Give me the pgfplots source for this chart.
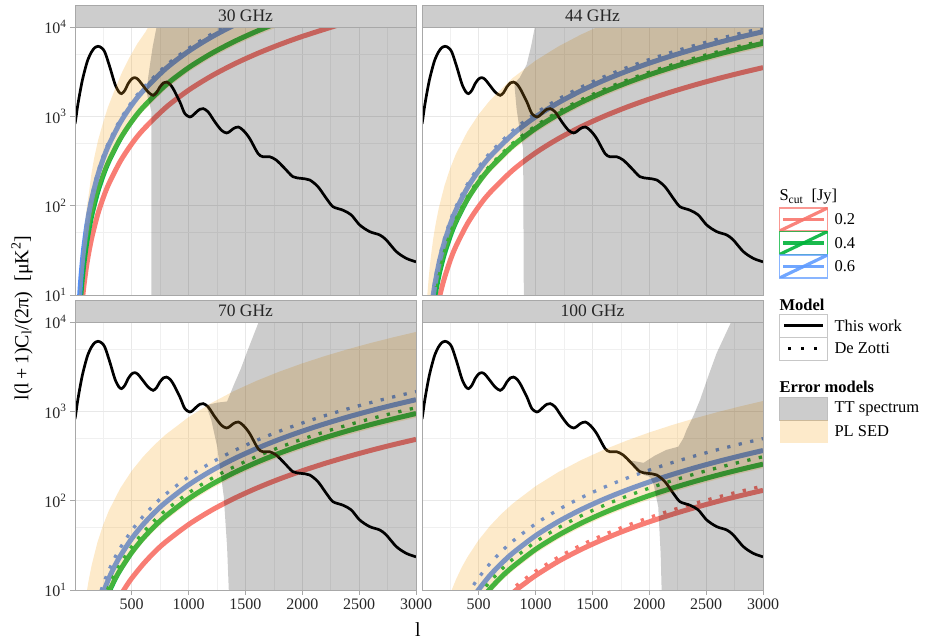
\documentclass[border=0pt]{standalone}
\usepackage{pgfplots}
\pgfplotsset{compat=1.18}
\usepackage{pgfplotstable}
\usepackage{fontspec}
\setmainfont{Liberation Serif}

\definecolor{cRed}{HTML}{F8766D}
\definecolor{cGreen}{HTML}{00B33A}
\definecolor{cBlue}{HTML}{4F8BF5}
\definecolor{cBlueKey}{HTML}{619CFF}
\definecolor{cTan}{HTML}{F7A723}
\definecolor{cStrip}{HTML}{CDCDCD}
\definecolor{cBorder}{HTML}{A8A8A8}

\newcommand{\ticksize}{\fontsize{16}{18}\selectfont}
\newcommand{\stripsize}{\fontsize{17.5}{20}\selectfont}
\newcommand{\legsize}{\fontsize{16.5}{19}\selectfont}
\newcommand{\titlesize}{\fontsize{20}{22}\selectfont}

% CMB temperature power spectrum, l(l+1)C_l/(2pi) in muK^2
\pgfplotstableread{
l v
2 820
10 950
25 1300
44 1800
65 2480
88 3270
115 4300
147 5250
175 5850
205 6080
235 5850
264 5250
308 3570
352 2320
385 1900
411 1795
440 1950
469 2320
500 2620
528 2710
555 2600
587 2320
645 1870
689 1718
720 1850
748 2130
780 2370
806 2420
835 2300
865 2040
924 1450
968 1070
1012 984
1040 1030
1070 1120
1100 1200
1129 1220
1173 1120
1232 866
1290 697
1334 651
1365 680
1393 727
1437 760
1481 697
1537 567
1610 385
1654 353
1713 353
1771 324
1845 262
1918 211
1991 202
2065 194
2138 163
2211 121
2270 97.5
2358 89
2431 78.7
2505 60.8
2593 51.2
2681 47
2739 41.3
2827 30.6
2915 25.7
3000 23.5
}\cmbtt

\pgfplotsset{
  facetpanel/.style={
    scale only axis, width=341pt, height=268pt,
    xmin=2, xmax=3000, ymin=10, ymax=10000,
    xtick={500,1000,1500,2000,2500,3000},
    minor xtick={250,750,1250,1750,2250,2750},
    ytick={10,100,1000,10000}, minor ytick={50,500,5000},
    xmajorgrids, xminorgrids, ymajorgrids, yminorgrids,
    major grid style={draw=black!9, line width=0.9pt},
    minor grid style={draw=black!6, line width=0.6pt},
    axis line style={draw=none},
    tick align=outside, major tick length=5pt, minor tick length=0pt,
    tick style={draw=cBorder, line width=0.8pt},
    xticklabels={}, yticklabels={},
    xtick pos=left, ytick pos=left,
    tick label style={font=\ticksize, text=black!85},
  },
  sRed/.style={cRed, line width=5pt, opacity=0.95, smooth},
  sGreen/.style={cGreen, line width=5pt, opacity=0.95, smooth},
  sBlue/.style={cBlue, line width=5pt, opacity=0.95, smooth},
  dz/.style={line width=3.3pt, dash pattern=on 3.3pt off 8.5pt, smooth},
  cmb/.style={black, line width=2.7pt, smooth},
  ttband/.style={fill=black, fill opacity=0.2, draw=none},
  sedband/.style={fill=cTan, fill opacity=0.24, draw=none},
}

\begin{document}
\begin{tikzpicture}[x=1pt,y=1pt]
\useasboundingbox (0,0) rectangle (925,640);

% ---------------- 30 GHz ----------------
\begin{semilogyaxis}[facetpanel, at={(75pt,613pt)}, anchor=north west,
  xtick style={draw=none},
  yticklabels={10\textsuperscript{1},10\textsuperscript{2},10\textsuperscript{3},10\textsuperscript{4}}]
\addplot[sRed] coordinates {(40,3.14) (50,4.9) (60,7.06) (70,9.6) (80,12.5) (100,19.6) (120,28.2) (150,44.1) (200,78.4) (250,122.5) (300,176.4) (400,313.6) (500,490) (600,705.6) (800,1254) (1000,1960) (1200,2822) (1400,3842) (1600,5018) (1800,6350) (2000,7840) (2300,10368) (2500,12250)};
\addplot[sGreen] coordinates {(30,3.15) (40,5.6) (50,8.75) (60,12.6) (70,17.15) (80,22.4) (100,35) (120,50.4) (150,78.75) (200,140) (250,218.75) (300,315) (400,560) (500,875) (600,1260) (800,2240) (1000,3500) (1200,5040) (1400,6860) (1600,8960) (1800,11340) (2000,14000)};
\addplot[sBlue] coordinates {(30,4.8) (40,8.54) (50,13.35) (60,19.2) (70,26.2) (80,34.2) (100,53.4) (120,76.9) (150,120.2) (200,213.6) (250,333.8) (300,480.6) (400,854.4) (500,1335) (600,1922) (800,3418) (1000,5340) (1200,7690) (1400,10466) (1600,13670)};
\addplot[dz, cBlue] coordinates {(30,5.18) (40,9.2) (50,14.4) (60,20.7) (70,28.2) (80,36.8) (100,57.5) (120,82.8) (150,129.4) (200,230) (250,359.4) (300,517.5) (400,920) (500,1437.5) (600,2070) (800,3680) (1000,5750) (1200,8280) (1400,11270)};
\addplot[cmb] table {\cmbtt};
\addplot[sedband] coordinates {(25,4) (38,10.9) (47,17) (58,25.7) (72,40) (88,60.7) (105,95) (126,143) (147,230) (170,339) (205,540) (243,800) (290,1250) (345,1890) (410,3000) (477,4470) (550,6500) (623,8850) (680,12000) (900,40000) (3000,1000000)
  (3000,28350) (2500,19690) (2000,12600) (1800,10206) (1600,8064) (1400,6174) (1200,4536) (1000,3150) (800,2016) (600,1134) (500,787.5) (400,504) (300,283.5) (250,196.9) (200,126) (150,70.9) (120,45.4) (100,31.5) (80,20.2) (70,15.4) (60,11.3) (50,7.9) (40,5.04) (30,2.8)};
\addplot[ttband] coordinates {(632,1900) (645,2700) (660,3700) (685,6000) (719,10000) (740,100000) (3000,100000) (3000,1) (673,1) (673,1130) (660,1350) (640,1650) (632,1900)};
\end{semilogyaxis}

% ---------------- 44 GHz ----------------
\begin{semilogyaxis}[facetpanel, at={(422pt,613pt)}, anchor=north west,
  xtick style={draw=none}, ytick style={draw=none}]
\addplot[sRed] coordinates {(100,3.9) (120,5.62) (150,8.78) (170,11.27) (200,15.6) (250,24.4) (300,35.1) (400,62.4) (500,97.5) (600,140.4) (800,249.6) (1000,390) (1200,561.6) (1400,764.4) (1600,998.4) (1800,1263.6) (2000,1560) (2200,1887.6) (2400,2246.4) (2600,2636.4) (2800,3057.6) (3000,3510)};
\addplot[sGreen] coordinates {(80,4.67) (100,7.3) (120,10.5) (150,16.4) (170,21.1) (200,29.2) (250,45.6) (300,65.7) (400,116.8) (500,182.5) (600,262.8) (800,467.2) (1000,730) (1200,1051) (1400,1431) (1600,1869) (1800,2365) (2000,2920) (2200,3533) (2400,4205) (2600,4935) (2800,5723) (3000,6570)};
\addplot[sBlue] coordinates {(80,6.3) (100,9.85) (120,14.2) (150,22.2) (170,28.5) (200,39.4) (250,61.6) (300,88.7) (400,157.6) (500,246.3) (600,354.6) (800,630.4) (1000,985) (1200,1418) (1400,1931) (1600,2522) (1800,3191) (2000,3940) (2200,4767) (2400,5674) (2600,6659) (2800,7722) (3000,8865)};
\addplot[dz, cGreen] coordinates {(80,5.0) (100,7.8) (120,11.2) (150,17.55) (170,22.5) (200,31.2) (250,48.75) (300,70.2) (400,124.8) (500,195) (600,280.8) (800,499.2) (1000,780) (1200,1123) (1400,1529) (1600,1997) (1800,2527) (2000,3120) (2200,3775) (2400,4493) (2600,5273) (2800,6115) (3000,7020)};
\addplot[dz, cBlue] coordinates {(80,6.9) (100,10.8) (120,15.6) (150,24.3) (170,31.2) (200,43.2) (250,67.5) (300,97.2) (400,172.8) (500,270) (600,388.8) (800,691.2) (1000,1080) (1200,1555) (1400,2117) (1600,2765) (1800,3499) (2000,4320) (2200,5227) (2400,6221) (2600,7301) (2800,8467) (3000,9720)};
\addplot[cmb] table {\cmbtt};
\addplot[sedband] coordinates {(40,6.7) (50,10.5) (60,15.1) (70,20.6) (80,26.9) (100,42) (120,60.5) (150,94.5) (200,168) (250,262.5) (300,378) (400,672) (500,1050) (600,1512) (800,2688) (1000,4200) (1200,6048) (1400,8232) (1600,10752) (2000,16800) (3000,37800)
  (3000,5913) (2800,5151) (2600,4441) (2400,3785) (2200,3180) (2000,2628) (1800,2129) (1600,1682) (1400,1288) (1200,946) (1000,657) (800,420.5) (600,236.5) (500,164.3) (400,105.1) (300,59.1) (250,41.1) (200,26.3) (150,14.8) (120,9.46) (100,6.57) (80,4.2)};
\addplot[ttband] coordinates {(815,2350) (860,2700) (921,3760) (960,6000) (994,10000) (1020,100000) (3000,100000) (3000,1) (897,1) (897,10) (891,439) (862,676) (833,1230) (818,2000) (815,2350)};
\end{semilogyaxis}

% ---------------- 70 GHz ----------------
\begin{semilogyaxis}[facetpanel, at={(75pt,318pt)}, anchor=north west,
  xticklabels={500,1000,1500,2000,2500,3000},
  yticklabels={10\textsuperscript{1},10\textsuperscript{2},10\textsuperscript{3},10\textsuperscript{4}}]
\addplot[sRed] coordinates {(400,8.64) (450,10.9) (500,13.5) (600,19.4) (700,26.5) (800,34.6) (1000,54) (1200,77.8) (1400,105.8) (1600,138.2) (1800,175) (2000,216) (2200,261.4) (2400,311) (2600,365) (2800,423.4) (3000,486)};
\addplot[sGreen] coordinates {(300,9.45) (350,12.9) (400,16.8) (500,26.25) (600,37.8) (700,51.45) (800,67.2) (1000,105) (1200,151.2) (1400,205.8) (1600,268.8) (1800,340.2) (2000,420) (2200,508.2) (2400,604.8) (2600,709.8) (2800,823.2) (3000,945)};
\addplot[sBlue] coordinates {(250,9.4) (300,13.5) (350,18.4) (400,24) (500,37.5) (600,54) (700,73.5) (800,96) (1000,150) (1200,216) (1400,294) (1600,384) (1800,486) (2000,600) (2200,726) (2400,864) (2600,1014) (2800,1176) (3000,1350)};
\addplot[dz, cGreen] coordinates {(250,7.6) (300,11) (350,14.9) (400,19.5) (500,30.5) (600,43.9) (700,59.8) (800,78.1) (1000,122) (1200,175.7) (1400,239.1) (1600,312.3) (1800,395.3) (2000,488) (2200,590.5) (2400,702.7) (2600,824.7) (2800,956.5) (3000,1098)};
\addplot[dz, cBlue] coordinates {(200,7.4) (250,11.6) (300,16.65) (350,22.7) (400,29.6) (500,46.25) (600,66.6) (700,90.65) (800,118.4) (1000,185) (1200,266.4) (1400,362.6) (1600,473.6) (1800,599.4) (2000,740) (2200,895.4) (2400,1066) (2600,1251) (2800,1450) (3000,1665)};
\addplot[cmb] table {\cmbtt};
\addplot[sedband] coordinates {(100,8.6) (120,12.4) (150,19.35) (200,34.4) (250,53.75) (300,77.4) (400,137.6) (500,215) (600,309.6) (700,421.4) (800,550.4) (1000,860) (1200,1238) (1400,1686) (1600,2202) (1800,2786) (2000,3440) (2200,4162) (2400,4954) (2600,5814) (2800,6742) (3000,7740)
  (3000,850.5) (2800,740.9) (2600,638.8) (2400,544.3) (2200,457.4) (2000,378) (1800,306.2) (1600,241.9) (1400,185.2) (1200,136.1) (1000,94.5) (800,60.5) (700,46.3) (600,34) (500,23.6) (400,15.1) (350,11.6) (300,8.5)};
\addplot[ttband] coordinates {(1164,1180) (1250,1250) (1339,1290) (1398,1970) (1460,3000) (1515,4640) (1617,10000) (1660,100000) (3000,100000) (3000,1) (1356,1) (1354,10) (1339,30.5) (1310,111) (1252,402) (1200,800) (1164,1080) (1164,1180)};
\end{semilogyaxis}

% ---------------- 100 GHz ----------------
\begin{semilogyaxis}[facetpanel, at={(422pt,318pt)}, anchor=north west,
  ytick style={draw=none},
  xticklabels={500,1000,1500,2000,2500,3000}]
\addplot[sRed] coordinates {(800,9.28) (850,10.5) (900,11.7) (1000,14.5) (1200,20.9) (1400,28.4) (1600,37.1) (1800,47) (2000,58) (2200,70.2) (2400,83.5) (2600,98) (2800,113.7) (3000,130.5)};
\addplot[sGreen] coordinates {(550,8.6) (600,10.3) (700,14) (800,18.2) (1000,28.5) (1200,41) (1400,55.9) (1600,73) (1800,92.3) (2000,114) (2200,138) (2400,164.2) (2600,192.7) (2800,223.4) (3000,256.5)};
\addplot[sBlue] coordinates {(450,8.2) (500,10.1) (600,14.6) (700,19.8) (800,25.9) (1000,40.5) (1200,58.3) (1400,79.4) (1600,103.7) (1800,131.2) (2000,162) (2200,196) (2400,233.3) (2600,273.8) (2800,317.5) (3000,364.5)};
\addplot[dz, cRed] coordinates {(750,9.1) (800,10.4) (900,13.1) (1000,16.2) (1200,23.3) (1400,31.8) (1600,41.5) (1800,52.5) (2000,64.8) (2200,78.4) (2400,93.3) (2600,109.5) (2800,127) (3000,145.8)};
\addplot[dz, cGreen] coordinates {(500,8.6) (550,10.4) (600,12.4) (700,16.9) (800,22.1) (1000,34.5) (1200,49.7) (1400,67.6) (1600,88.3) (1800,111.8) (2000,138) (2200,167) (2400,198.7) (2600,233.2) (2800,270.5) (3000,310.5)};
\addplot[dz, cBlue] coordinates {(400,8.8) (450,11.1) (500,13.75) (600,19.8) (700,26.95) (800,35.2) (1000,55) (1200,79.2) (1400,107.8) (1600,140.8) (1800,178.2) (2000,220) (2200,266.2) (2400,316.8) (2600,371.8) (2800,431.2) (3000,495)};
\addplot[cmb] table {\cmbtt};
\addplot[sedband] coordinates {(250,9.1) (300,13.05) (350,17.8) (400,23.2) (500,36.25) (600,52.2) (700,71.05) (800,92.8) (1000,145) (1200,208.8) (1400,284.2) (1600,371.2) (1800,469.8) (2000,580) (2200,701.8) (2400,835.2) (2600,980.2) (2800,1137) (3000,1305)
  (3000,231.3) (2800,201.5) (2600,173.7) (2400,148) (2200,124.4) (2000,102.8) (1800,83.3) (1600,65.8) (1400,50.4) (1200,37) (1000,25.7) (800,16.4) (700,12.6) (600,9.25)};
\addplot[ttband] coordinates {(1850,280) (1950,265) (2050,320) (2150,370) (2255,402) (2300,500) (2328,618) (2390,900) (2446,1340) (2520,2500) (2592,4470) (2720,10000) (2800,100000) (3000,100000) (3000,1) (2110,1) (2108,10.9) (2100,25.7) (2079,85) (2040,150) (2006,185) (1950,195) (1850,250) (1850,280)};
\end{semilogyaxis}

% panel borders and facet strips
\foreach \x/\y/\lab in {75/613/30 GHz, 422/613/44 GHz, 75/318/70 GHz, 422/318/100 GHz}{
  \draw[cBorder, line width=0.8pt] (\x,\y-268) rectangle (\x+341,\y);
  \draw[cBorder, line width=0.8pt, fill=cStrip] (\x,\y) rectangle (\x+341,\y+22);
  \node[font=\stripsize, text=black!85] at (\x+170.5,\y+11) {\lab};
}

% axis titles
\node[font=\titlesize, rotate=90] at (22,322) {l(l\,+\,1)C\textsubscript{l}/(2π)~~[μK\textsuperscript{2}]};
\node[font=\titlesize] at (418,10) {l};

% legend: source flux cut
\node[anchor=west, font=\legsize] at (776,443) {S\textsubscript{cut}~~[Jy]};
\foreach \c/\yt/\lab in {cRed/432/0.2, cGreen/408.5/0.4, cBlueKey/385/0.6}{
  \begin{scope}
    \clip (779.5,\yt-23) rectangle (827.5,\yt);
    \draw[\c, line width=3.2pt, opacity=0.9] (783,\yt-11.5) -- (824,\yt-11.5);
    \draw[\c, line width=3.2pt, opacity=0.9] (779.5,\yt-23) -- (827.5,\yt);
  \end{scope}
  \draw[\c, line width=1.2pt, opacity=0.75] (779.5,\yt-23) rectangle (827.5,\yt);
  \node[anchor=west, font=\legsize] at (831,\yt-11.5) {\lab};
}

% legend: model
\node[anchor=west, font=\legsize\bfseries] at (776,335) {Model};
\draw[black!22, line width=0.8pt] (779.5,303) rectangle (827.5,325.5);
\draw[black!22, line width=0.8pt] (779.5,280) rectangle (827.5,303);
\draw[black, line width=2.7pt] (784,314.2) -- (823,314.2);
\draw[black, line width=3pt, dash pattern=on 3pt off 10pt] (788,291.5) -- (825,291.5);
\node[anchor=west, font=\legsize] at (831,314.2) {This work};
\node[anchor=west, font=\legsize] at (831,291.5) {De Zotti};

% legend: error models
\node[anchor=west, font=\legsize\bfseries] at (776,253) {Error models};
\fill[black!20] (779.5,220) rectangle (827.5,243);
\draw[black!25, line width=0.8pt] (779.5,220) rectangle (827.5,243);
\fill[cTan, opacity=0.24] (779.5,197) rectangle (827.5,220);
\node[anchor=west, font=\legsize] at (831,231.5) {TT spectrum};
\node[anchor=west, font=\legsize] at (831,208.5) {PL SED};
\end{tikzpicture}
\end{document}
